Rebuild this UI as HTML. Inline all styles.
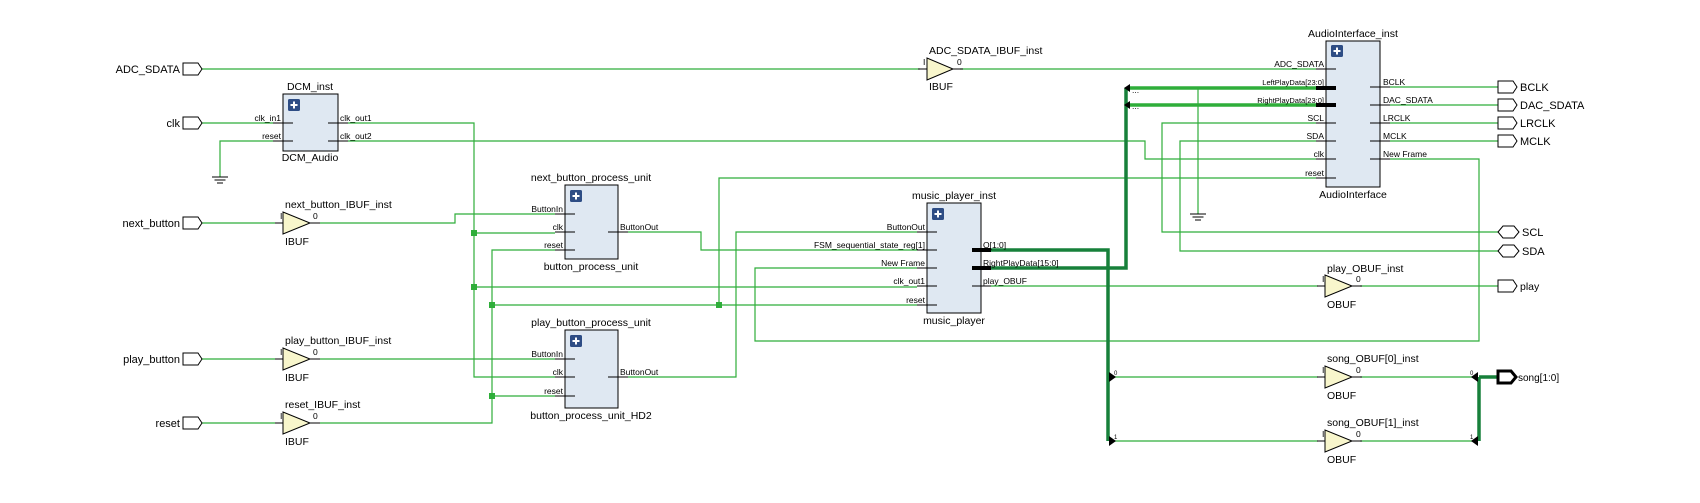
<!DOCTYPE html>
<html><head><meta charset="utf-8"><style>
html,body{margin:0;padding:0;background:#fff;}
svg{display:block;font-family:"Liberation Sans",sans-serif;}
.w{stroke:#2fae3a;stroke-width:1.2;fill:none;}
.bl{stroke:#2fae3a;stroke-width:3.5;fill:none;}
.bd{stroke:#17803a;stroke-width:3.5;fill:none;}
.pin{stroke:#000;stroke-width:1;}
.bp{stroke:#000;stroke-width:4;}
.box{fill:#dfe8f2;stroke:#000;stroke-width:1;}
.buf{fill:#f8f6cc;stroke:#000;stroke-width:1;}
.port{fill:#fff;stroke:#000;stroke-width:1;}
.pl{font-size:8.5px;}
.il{font-size:10.5px;}
.ep{font-size:11px;}
</style></head><body>
<svg width="1700" height="503" viewBox="0 0 1700 503" xmlns="http://www.w3.org/2000/svg">
<!-- wires -->
<polyline class="w" points="202,69 920,69"/>
<polyline class="w" points="960,69 1316,69"/>
<polyline class="w" points="202,123 273,123"/>
<polyline class="w" points="273,141 220,141 220,177"/>
<line x1="212" y1="177" x2="228" y2="177" stroke="#000"/><line x1="214.5" y1="180" x2="225.5" y2="180" stroke="#000"/><line x1="217" y1="183" x2="223" y2="183" stroke="#000"/>
<polyline class="w" points="348,123 474,123 474,377 555,377"/>
<polyline class="w" points="474,233 555,233"/>
<polyline class="w" points="474,287 917,287"/>
<polyline class="w" points="348,141 1145,141 1145,159 1316,159"/>
<polyline class="w" points="202,223 275,223"/>
<polyline class="w" points="320,223 455,223 455,214 555,214"/>
<polyline class="w" points="202,359 275,359"/>
<polyline class="w" points="320,359 555,359"/>
<polyline class="w" points="202,423 275,423"/>
<polyline class="w" points="320,423 492,423 492,250 555,250"/>
<polyline class="w" points="492,396 555,396"/>
<polyline class="w" points="492,305 917,305"/>
<polyline class="w" points="719,305 719,178 1316,178"/>
<polyline class="w" points="628,232 701,232 701,250 917,250"/>
<polyline class="w" points="628,377 736,377 736,232 917,232"/>
<polyline class="w" points="917,268 755,268 755,341 1479,341 1479,159 1390,159"/>
<polyline class="w" points="991,286 1318,286"/>
<polyline class="w" points="1360,286 1498,286"/>
<polyline class="w" points="1316,123 1162,123 1162,232 1498,232"/>
<polyline class="w" points="1316,141 1180,141 1180,251 1498,251"/>
<polyline class="w" points="1390,87 1498,87"/>
<polyline class="w" points="1390,105 1498,105"/>
<polyline class="w" points="1390,123 1498,123"/>
<polyline class="w" points="1390,141 1498,141"/>
<polyline class="w" points="1198,88 1198,214"/>
<line x1="1190" y1="214" x2="1206" y2="214" stroke="#000"/><line x1="1192.5" y1="217" x2="1203.5" y2="217" stroke="#000"/><line x1="1195" y1="220" x2="1201" y2="220" stroke="#000"/>
<polyline class="w" points="1112,377 1318,377"/>
<polyline class="w" points="1360,377 1475,377"/>
<polyline class="w" points="1112,441 1318,441"/>
<polyline class="w" points="1360,441 1475,441"/>
<!-- buses -->
<polyline class="bl" points="1128,88 1316,88"/>
<polyline class="bl" points="1128,105 1316,105"/>
<polyline class="bd" points="991,250 1108,250 1108,441"/>
<polyline class="bd" points="991,268 1126,268 1126,88"/>
<polyline class="bd" points="1479,377 1479,441"/>
<polyline class="bd" points="1479,377 1497,377"/>
<!-- rippers -->
<polygon points="1124,88 1130,84 1130,92" fill="#000"/><polygon points="1124,105 1130,101 1130,109" fill="#000"/>
<text x="1132" y="93" class="pl" font-size="7">...</text><text x="1132" y="109" class="pl" font-size="7">...</text>
<polygon points="1116,377 1109,372 1109,382" fill="#000"/><polygon points="1116,441 1109,436 1109,446" fill="#000"/>
<text x="1114" y="375" font-size="6">0</text><text x="1114" y="439" font-size="6">1</text>
<polygon points="1471,377 1478,372 1478,382" fill="#000"/><polygon points="1471,441 1478,436 1478,446" fill="#000"/>
<text x="1470" y="375" font-size="6">0</text><text x="1470" y="439" font-size="6">1</text>
<!-- junctions -->
<g fill="#2fae3a"><rect x="471" y="230" width="6" height="6"/><rect x="471" y="284" width="6" height="6"/><rect x="489" y="302" width="6" height="6"/><rect x="489" y="393" width="6" height="6"/><rect x="716" y="302" width="6" height="6"/></g>
<!-- external ports -->
<g class="port">
<polygon points="183,63 198,63 202,69 198,75 183,75"/>
<polygon points="183,117 198,117 202,123 198,129 183,129"/>
<polygon points="183,217 198,217 202,223 198,229 183,229"/>
<polygon points="183,353 198,353 202,359 198,365 183,365"/>
<polygon points="183,417 198,417 202,423 198,429 183,429"/>
<polygon points="1498,81 1513,81 1517,87 1513,93 1498,93"/>
<polygon points="1498,99 1513,99 1517,105 1513,111 1498,111"/>
<polygon points="1498,117 1513,117 1517,123 1513,129 1498,129"/>
<polygon points="1498,135 1513,135 1517,141 1513,147 1498,147"/>
<polygon points="1498,280 1513,280 1517,286 1513,292 1498,292"/>
<polygon points="1498,232 1503,226 1514,226 1519,232 1514,238 1503,238"/>
<polygon points="1498,251 1503,245 1514,245 1519,251 1514,257 1503,257"/>
<polygon points="1498,371 1511,371 1516,377 1511,383 1498,383" style="stroke-width:3"/>
</g>
<g class="ep" text-anchor="end">
<text x="180" y="73">ADC_SDATA</text><text x="180" y="127">clk</text><text x="180" y="227">next_button</text><text x="180" y="363">play_button</text><text x="180" y="427">reset</text>
</g>
<g class="ep">
<text x="1520" y="91">BCLK</text><text x="1520" y="109">DAC_SDATA</text><text x="1520" y="127">LRCLK</text><text x="1520" y="145">MCLK</text>
<text x="1522" y="236">SCL</text><text x="1522" y="255">SDA</text><text x="1520" y="290" font-size="10.5">play</text><text x="1518" y="381" font-size="10">song[1:0]</text>
</g>
<!-- buffers -->
<g>
<polygon class="buf" points="283,212 283,234 310,223"/><line class="pin" x1="275" y1="223" x2="283" y2="223"/><line class="pin" x1="310" y1="223" x2="320" y2="223"/>
<text x="280" y="219" class="pl">I</text><text x="313" y="219" class="pl">0</text><text x="285" y="208" class="il">next_button_IBUF_inst</text><text x="285" y="245" class="il">IBUF</text>
<polygon class="buf" points="283,348 283,370 310,359"/><line class="pin" x1="275" y1="359" x2="283" y2="359"/><line class="pin" x1="310" y1="359" x2="320" y2="359"/>
<text x="280" y="355" class="pl">I</text><text x="313" y="355" class="pl">0</text><text x="285" y="344" class="il">play_button_IBUF_inst</text><text x="285" y="381" class="il">IBUF</text>
<polygon class="buf" points="283,412 283,434 310,423"/><line class="pin" x1="275" y1="423" x2="283" y2="423"/><line class="pin" x1="310" y1="423" x2="320" y2="423"/>
<text x="280" y="419" class="pl">I</text><text x="313" y="419" class="pl">0</text><text x="285" y="408" class="il">reset_IBUF_inst</text><text x="285" y="445" class="il">IBUF</text>
<polygon class="buf" points="927,58 927,80 953,69"/><line class="pin" x1="918" y1="69" x2="927" y2="69"/><line class="pin" x1="953" y1="69" x2="963" y2="69"/>
<text x="923" y="65" class="pl">I</text><text x="957" y="65" class="pl">0</text><text x="929" y="54" class="il">ADC_SDATA_IBUF_inst</text><text x="929" y="90" class="il">IBUF</text>
<polygon class="buf" points="1325,275 1325,297 1352,286"/><line class="pin" x1="1317" y1="286" x2="1325" y2="286"/><line class="pin" x1="1352" y1="286" x2="1362" y2="286"/>
<text x="1322" y="282" class="pl">I</text><text x="1356" y="282" class="pl">0</text><text x="1327" y="272" class="il">play_OBUF_inst</text><text x="1327" y="308" class="il">OBUF</text>
<polygon class="buf" points="1325,366 1325,388 1352,377"/><line class="pin" x1="1317" y1="377" x2="1325" y2="377"/><line class="pin" x1="1352" y1="377" x2="1362" y2="377"/>
<text x="1322" y="373" class="pl">I</text><text x="1356" y="373" class="pl">0</text><text x="1327" y="362" class="il">song_OBUF[0]_inst</text><text x="1327" y="399" class="il">OBUF</text>
<polygon class="buf" points="1325,430 1325,452 1352,441"/><line class="pin" x1="1317" y1="441" x2="1325" y2="441"/><line class="pin" x1="1352" y1="441" x2="1362" y2="441"/>
<text x="1322" y="437" class="pl">I</text><text x="1356" y="437" class="pl">0</text><text x="1327" y="426" class="il">song_OBUF[1]_inst</text><text x="1327" y="463" class="il">OBUF</text>
</g>
<!-- blocks -->
<g>
<rect class="box" x="283" y="94" width="55" height="57"/>
<rect x="288" y="99" width="12" height="12" rx="1.5" fill="#2e4d85"/><path d="M294,101.5v7M290.5,105h7" stroke="#fff" stroke-width="2"/>
<line class="pin" x1="273" y1="123" x2="293" y2="123"/><line class="pin" x1="273" y1="141" x2="293" y2="141"/>
<line class="pin" x1="328" y1="123" x2="348" y2="123"/><line class="pin" x1="328" y1="141" x2="348" y2="141"/>
<g class="pl"><text x="281" y="121" text-anchor="end">clk_in1</text><text x="281" y="139" text-anchor="end">reset</text><text x="340" y="121">clk_out1</text><text x="340" y="139">clk_out2</text></g>
<text x="310" y="90" class="il" text-anchor="middle">DCM_inst</text><text x="310" y="161" class="il" text-anchor="middle">DCM_Audio</text>
<rect class="box" x="565" y="185" width="53" height="74"/>
<rect x="570" y="190" width="12" height="12" rx="1.5" fill="#2e4d85"/><path d="M576,192.5v7M572.5,196h7" stroke="#fff" stroke-width="2"/>
<line class="pin" x1="555" y1="214" x2="575" y2="214"/><line class="pin" x1="555" y1="232" x2="575" y2="232"/><line class="pin" x1="555" y1="250" x2="575" y2="250"/><line class="pin" x1="608" y1="232" x2="628" y2="232"/>
<g class="pl"><text x="563" y="212" text-anchor="end">ButtonIn</text><text x="563" y="230" text-anchor="end">clk</text><text x="563" y="248" text-anchor="end">reset</text><text x="620" y="230">ButtonOut</text></g>
<text x="591" y="181" class="il" text-anchor="middle">next_button_process_unit</text><text x="591" y="270" class="il" text-anchor="middle">button_process_unit</text>
<rect class="box" x="565" y="330" width="53" height="78"/>
<rect x="570" y="335" width="12" height="12" rx="1.5" fill="#2e4d85"/><path d="M576,337.5v7M572.5,341h7" stroke="#fff" stroke-width="2"/>
<line class="pin" x1="555" y1="359" x2="575" y2="359"/><line class="pin" x1="555" y1="377" x2="575" y2="377"/><line class="pin" x1="555" y1="396" x2="575" y2="396"/><line class="pin" x1="608" y1="377" x2="628" y2="377"/>
<g class="pl"><text x="563" y="357" text-anchor="end">ButtonIn</text><text x="563" y="375" text-anchor="end">clk</text><text x="563" y="394" text-anchor="end">reset</text><text x="620" y="375">ButtonOut</text></g>
<text x="591" y="326" class="il" text-anchor="middle">play_button_process_unit</text><text x="591" y="419" class="il" text-anchor="middle">button_process_unit_HD2</text>
<rect class="box" x="927" y="203" width="54" height="110"/>
<rect x="932" y="208" width="12" height="12" rx="1.5" fill="#2e4d85"/><path d="M938,210.5v7M934.5,214h7" stroke="#fff" stroke-width="2"/>
<line class="pin" x1="917" y1="232" x2="937" y2="232"/><line class="pin" x1="917" y1="250" x2="937" y2="250"/><line class="pin" x1="917" y1="268" x2="937" y2="268"/><line class="pin" x1="917" y1="286" x2="937" y2="286"/><line class="pin" x1="917" y1="305" x2="937" y2="305"/>
<line class="bp" x1="972" y1="250" x2="991" y2="250"/><line class="bp" x1="972" y1="268" x2="991" y2="268"/><line class="pin" x1="972" y1="286" x2="991" y2="286"/>
<g class="pl"><text x="925" y="230" text-anchor="end">ButtonOut</text><text x="925" y="248" text-anchor="end">FSM_sequential_state_reg[1]</text><text x="925" y="266" text-anchor="end">New Frame</text><text x="925" y="284" text-anchor="end">clk_out1</text><text x="925" y="303" text-anchor="end">reset</text>
<text x="983" y="248">Q[1:0]</text><text x="983" y="266">RightPlayData[15:0]</text><text x="983" y="284">play_OBUF</text></g>
<text x="954" y="199" class="il" text-anchor="middle">music_player_inst</text><text x="954" y="324" class="il" text-anchor="middle">music_player</text>
<rect class="box" x="1326" y="41" width="54" height="146"/>
<rect x="1331" y="45" width="12" height="12" rx="1.5" fill="#2e4d85"/><path d="M1337,47.5v7M1333.5,51h7" stroke="#fff" stroke-width="2"/>
<line class="pin" x1="1316" y1="69" x2="1336" y2="69"/><line class="bp" x1="1316" y1="88" x2="1336" y2="88"/><line class="bp" x1="1316" y1="105" x2="1336" y2="105"/>
<line class="pin" x1="1316" y1="123" x2="1336" y2="123"/><line class="pin" x1="1316" y1="141" x2="1336" y2="141"/><line class="pin" x1="1316" y1="159" x2="1336" y2="159"/><line class="pin" x1="1316" y1="178" x2="1336" y2="178"/>
<line class="pin" x1="1370" y1="87" x2="1390" y2="87"/><line class="pin" x1="1370" y1="105" x2="1390" y2="105"/><line class="pin" x1="1370" y1="123" x2="1390" y2="123"/><line class="pin" x1="1370" y1="141" x2="1390" y2="141"/><line class="pin" x1="1370" y1="159" x2="1390" y2="159"/>
<g class="pl"><text x="1324" y="67" text-anchor="end">ADC_SDATA</text><text x="1324" y="85" text-anchor="end" font-size="7.5">LeftPlayData[23:0]</text><text x="1324" y="103" text-anchor="end" font-size="7.5">RightPlayData[23:0]</text><text x="1324" y="121" text-anchor="end">SCL</text><text x="1324" y="139" text-anchor="end">SDA</text><text x="1324" y="157" text-anchor="end">clk</text><text x="1324" y="176" text-anchor="end">reset</text>
<text x="1383" y="85">BCLK</text><text x="1383" y="103">DAC_SDATA</text><text x="1383" y="121">LRCLK</text><text x="1383" y="139">MCLK</text><text x="1383" y="157">New Frame</text></g>
<text x="1353" y="37" class="il" text-anchor="middle">AudioInterface_inst</text><text x="1353" y="198" class="il" text-anchor="middle">AudioInterface</text>
</g>
</svg>
</body></html>
